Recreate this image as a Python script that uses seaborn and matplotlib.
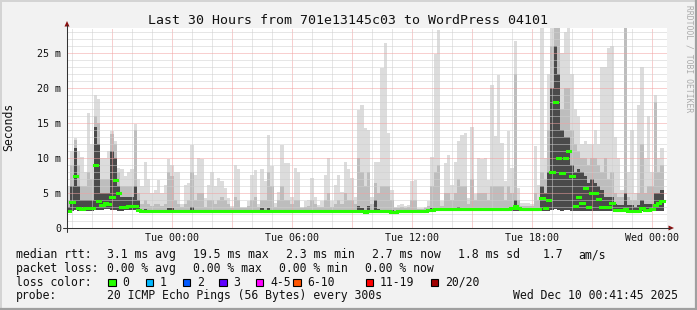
import numpy as np
import pandas as pd
import matplotlib
matplotlib.use("Agg")
import matplotlib.pyplot as plt
import seaborn as sns
from matplotlib.lines import Line2D
from matplotlib.patches import Rectangle, Polygon

# ---------------- data ----------------
TITLE = "Last 30 Hours from 701e13145c03 to WordPress 04101"
START_H = -5.265          # first sample, hours relative to Tue 00:00 (Mon 18:44)
STEP_H = 1.0 / 6.0        # 10-minute bins

# median RTT per bin (ms)
med = [
    2.5, 3.7, 7.5, 2.8, 2.7, 2.8, 2.9, 2.9, 9.0, 3.8,
    3.3, 3.6, 3.4, 4.5, 6.8, 5.0, 3.0, 3.0, 3.1, 3.1,
    3.2, 2.6, 2.45, 2.45, 2.45, 2.45, 2.45, 2.45, 2.4, 2.4,
    2.4, 2.4, 2.4, 2.4, 2.4, 2.4, 2.4, 2.4, 2.4, 2.45,
    2.4, 2.4, 2.4, 2.4, 2.4, 2.45, 2.4, 2.4, 2.4, 2.4,
    2.4, 2.4, 2.4, 2.4, 2.4, 2.4, 2.4, 2.4, 2.45, 2.5,
    2.4, 2.4, 2.4, 2.4, 2.4, 2.4, 2.4, 2.4, 2.4, 2.4,
    2.45, 2.4, 2.4, 2.4, 2.4, 2.4, 2.4, 2.4, 2.4, 2.45,
    2.4, 2.4, 2.4, 2.4, 2.4, 2.45, 2.4, 2.4, 2.4, 2.35,
    2.4, 2.45, 2.45, 2.45, 2.4, 2.4, 2.4, 2.35, 2.35, 2.4,
    2.4, 2.4, 2.45, 2.45, 2.5, 2.5, 2.5, 2.5, 2.55, 2.6,
    2.75, 2.75, 2.7, 2.7, 2.7, 2.75, 2.75, 2.7, 2.7, 2.7,
    2.7, 2.7, 2.7, 2.7, 2.7, 2.7, 2.7, 2.7, 2.7, 2.7,
    2.7, 2.7, 2.7, 2.8, 3.2, 2.8, 2.7, 2.7, 2.7, 2.7,
    2.7, 2.7, 4.3, 2.9, 4.0, 8.0, 18.0, 10.0, 7.8, 10.0,
    11.0, 7.5, 3.2, 4.5, 3.6, 5.7, 3.0, 5.0, 5.0, 4.2,
    3.0, 3.0, 3.0, 3.6, 2.6, 2.6, 2.6, 2.7, 2.5, 2.5,
    2.5, 2.5, 2.9, 2.6, 2.6, 2.7, 3.3, 3.6, 3.8,
]

# bottom of the smoke (fastest pings, ms)
smoke_lo = [
    2.3, 2.4, 2.6, 2.4, 2.4, 2.5, 2.5, 2.5, 2.6, 2.6,
    2.6, 2.7, 2.7, 2.6, 2.6, 2.5, 2.5, 2.6, 2.6, 2.6,
    2.6, 2.3, 2.3, 2.3, 2.3, 2.3, 2.3, 2.3, 2.3, 2.3,
    2.3, 2.3, 2.3, 2.3, 2.3, 2.3, 2.3, 2.3, 2.3, 2.3,
    2.3, 2.3, 2.3, 2.3, 2.3, 2.3, 2.3, 2.3, 2.3, 2.3,
    2.3, 2.3, 2.3, 2.3, 2.3, 2.3, 2.3, 2.3, 2.3, 2.3,
    2.3, 2.3, 2.3, 2.3, 2.3, 2.3, 2.3, 2.3, 2.3, 2.3,
    2.3, 2.3, 2.3, 2.3, 2.3, 2.3, 2.3, 2.3, 2.3, 2.3,
    2.3, 2.3, 2.3, 2.3, 2.3, 2.3, 2.3, 2.3, 2.3, 2.3,
    2.3, 2.3, 2.3, 2.3, 2.3, 2.3, 2.3, 2.3, 2.3, 2.3,
    2.3, 2.3, 2.3, 2.3, 2.3, 2.3, 2.3, 2.3, 2.35, 2.4,
    2.5, 2.5, 2.5, 2.5, 2.5, 2.5, 2.5, 2.5, 2.5, 2.5,
    2.5, 2.5, 2.5, 2.5, 2.5, 2.5, 2.5, 2.5, 2.5, 2.5,
    2.5, 2.5, 2.5, 2.5, 2.5, 2.5, 2.5, 2.5, 2.5, 2.5,
    2.5, 2.5, 2.5, 2.5, 2.5, 2.6, 2.7, 2.6, 2.5, 2.6,
    2.6, 2.5, 2.5, 2.5, 2.5, 2.5, 2.5, 2.5, 2.5, 2.5,
    2.5, 2.5, 2.5, 2.5, 2.4, 2.4, 2.4, 2.4, 2.4, 2.4,
    2.4, 2.4, 2.4, 2.4, 2.4, 2.4, 2.4, 2.5, 2.5,
]

# top of the dark (inner) smoke band (ms)
smoke_dark = [
    3.0, 6.0, 11.5, 6.0, 4.0, 4.0, 4.0, 4.0, 14.5, 12.0,
    5.0, 5.0, 5.0, 11.0, 10.0, 6.0, 4.5, 4.5, 4.5, 4.5,
    6.0, 4.0, 2.6, 2.7, 2.6, 2.6, 2.6, 2.6, 2.6, 2.6,
    2.8, 2.8, 2.6, 2.6, 2.6, 2.6, 2.6, 3.0, 2.6, 2.6,
    2.6, 2.6, 2.6, 2.6, 2.6, 2.6, 2.6, 2.6, 2.6, 2.6,
    2.6, 2.6, 2.6, 2.6, 2.6, 2.6, 2.6, 2.6, 2.8, 2.6,
    2.8, 2.6, 2.6, 2.6, 2.6, 2.6, 2.6, 2.6, 2.6, 2.6,
    2.6, 2.6, 2.6, 2.6, 2.6, 2.6, 2.6, 2.6, 2.6, 2.6,
    2.6, 2.6, 2.6, 2.6, 2.6, 2.6, 2.6, 3.2, 2.8, 2.6,
    3.2, 2.6, 4.0, 2.7, 2.6, 2.6, 2.6, 2.6, 2.5, 2.5,
    2.5, 2.5, 2.5, 2.6, 2.6, 2.6, 2.6, 2.6, 2.6, 2.8,
    2.9, 2.9, 2.8, 2.9, 2.9, 2.8, 2.9, 3.0, 2.9, 2.9,
    2.8, 2.9, 2.8, 2.9, 2.9, 2.9, 2.8, 2.9, 2.9, 2.9,
    2.9, 2.8, 2.9, 2.9, 4.0, 2.9, 2.8, 2.8, 2.8, 2.8,
    2.9, 2.8, 6.0, 5.0, 8.0, 20.0, 26.0, 22.0, 14.0, 13.0,
    13.0, 9.0, 8.0, 8.5, 8.0, 7.5, 6.5, 7.0, 6.5, 6.0,
    5.5, 4.5, 4.5, 4.5, 3.5, 3.3, 3.3, 5.0, 3.3, 3.3,
    3.0, 3.3, 4.0, 3.5, 3.5, 3.5, 5.0, 5.0, 5.5,
]

# top of the medium smoke band (ms)
smoke_mid = [
    4.0, 9.0, 12.6, 9.0, 6.0, 6.0, 8.0, 7.0, 16.0, 15.0,
    7.0, 7.0, 7.0, 13.5, 12.0, 8.0, 6.0, 6.0, 6.0, 6.0,
    14.0, 5.0, 3.5, 4.0, 3.5, 3.2, 3.5, 3.5, 3.2, 3.5,
    8.0, 7.5, 4.0, 3.5, 3.0, 3.5, 4.0, 8.0, 4.0, 5.0,
    5.0, 3.0, 4.0, 4.0, 3.5, 4.0, 4.5, 4.0, 3.5, 2.8,
    4.5, 4.0, 2.8, 2.8, 3.2, 4.0, 4.5, 3.0, 4.0, 4.0,
    8.0, 6.0, 3.0, 4.0, 6.0, 4.0, 4.0, 3.5, 4.0, 4.0,
    2.8, 3.0, 3.2, 4.0, 3.5, 3.0, 3.0, 4.0, 5.0, 3.0,
    3.5, 4.0, 3.5, 5.0, 4.0, 4.0, 3.5, 10.0, 8.0, 6.0,
    8.0, 3.5, 6.5, 5.0, 6.0, 6.0, 6.0, 4.0, 2.8, 2.9,
    3.0, 2.8, 3.0, 4.0, 4.0, 2.7, 2.7, 2.8, 3.2, 6.0,
    8.0, 9.0, 3.2, 5.0, 5.0, 4.0, 5.0, 7.0, 6.0, 6.0,
    3.5, 7.0, 4.0, 5.0, 5.0, 5.0, 4.0, 6.0, 6.0, 6.0,
    6.0, 4.0, 6.0, 5.0, 22.0, 4.0, 3.2, 3.2, 3.2, 3.2,
    5.0, 4.0, 8.0, 7.0, 14.0, 26.0, 28.6, 28.6, 17.0, 20.0,
    20.0, 14.0, 12.0, 11.0, 10.0, 10.0, 9.0, 10.0, 10.0, 9.0,
    8.0, 10.0, 7.0, 8.0, 5.0, 4.5, 4.5, 28.6, 4.5, 4.0,
    4.0, 5.0, 12.0, 5.0, 6.0, 6.0, 18.0, 8.0, 9.0,
]

# top of the light (outer) smoke band = slowest ping (ms)
smoke_max = [
    6.0, 11.0, 12.8, 11.0, 10.2, 8.0, 16.5, 12.0, 19.0, 18.5,
    10.0, 10.0, 11.0, 13.8, 12.5, 8.6, 8.5, 7.5, 8.0, 8.5,
    14.8, 7.0, 6.0, 9.5, 7.0, 5.0, 5.5, 6.8, 5.0, 6.2,
    9.8, 9.0, 8.0, 8.0, 3.5, 6.2, 6.4, 11.9, 7.6, 10.0,
    9.8, 4.3, 6.2, 8.0, 6.0, 7.2, 6.7, 5.7, 4.3, 3.2,
    9.0, 8.5, 3.0, 3.0, 3.8, 7.6, 8.3, 3.5, 8.5, 6.7,
    13.3, 8.8, 3.6, 5.2, 11.9, 9.3, 9.3, 4.5, 8.6, 8.0,
    3.0, 3.8, 4.0, 7.1, 4.5, 3.3, 3.8, 7.6, 10.0, 3.8,
    6.2, 7.6, 5.2, 9.5, 8.4, 7.1, 4.5, 16.8, 17.6, 14.3,
    14.0, 4.5, 9.5, 9.5, 22.9, 26.4, 13.6, 5.5, 3.0, 3.3,
    3.4, 3.1, 3.3, 6.7, 6.9, 2.8, 2.8, 3.0, 3.8, 10.2,
    24.8, 28.3, 3.8, 9.3, 10.5, 6.2, 9.5, 12.4, 13.3, 13.6,
    4.3, 14.5, 4.8, 10.0, 9.8, 10.0, 6.9, 20.5, 13.1, 21.9,
    12.1, 6.7, 13.8, 8.6, 26.7, 5.7, 3.6, 3.6, 3.6, 3.5,
    11.7, 6.2, 28.6, 10.0, 22.0, 28.6, 28.6, 28.6, 25.0, 28.0,
    28.6, 22.0, 17.0, 16.0, 12.0, 12.5, 12.0, 12.0, 14.0, 12.0,
    23.0, 23.0, 25.7, 26.0, 13.0, 10.0, 5.5, 28.6, 8.0, 14.0,
    5.0, 17.6, 23.0, 10.0, 16.0, 8.0, 19.0, 10.0, 11.5,
]

x_tick_hours = [0, 6, 12, 18, 24]
x_tick_labels = ["Tue 00:00", "Tue 06:00", "Tue 12:00", "Tue 18:00", "Wed 00:00"]
y_tick_values = [0, 5, 10, 15, 20, 25]
y_tick_labels = ["0", "5 m", "10 m", "15 m", "20 m", "25 m"]

loss_labels = ["0", "1", "2", "3", "4-5", "6-10", "11-19", "20/20"]
loss_colors = ["#26ff00", "#00b8ff", "#0059ff", "#5e00ff", "#ff00ff",
               "#ff5500", "#ff0000", "#a00000"]

stats_rtt = ["3.1 ms avg", "19.5 ms max", "2.3 ms min", "2.7 ms now",
             "1.8 ms sd", "1.7", "am/s"]
stats_loss = ["0.00 % avg", "0.00 % max", "0.00 % min", "0.00 % now"]
probe_text = "20 ICMP Echo Pings (56 Bytes) every 300s"
stamp_text = "Wed Dec 10 00:41:45 2025"

# ---------------- figure ----------------
sns.set_style("white")
plt.rcParams["font.family"] = ["DejaVu Sans Mono"]

W, H = 697, 310
fig = plt.figure(figsize=(W / 100, H / 100), dpi=100)
fig.patch.set_facecolor("#f2f2f2")

def fx(px):
    return px / W

def fy(py):
    return 1 - py / H

PL, PR, PT, PB = 67, 667, 28, 228
ax = fig.add_axes([fx(PL), fy(PB), (PR - PL) / W, (PB - PT) / H])
ax.set_facecolor("white")
YMAX = 200 / 7.0
ax.set_xlim(START_H, START_H + 30)
ax.set_ylim(0, YMAX)
for s in ax.spines.values():
    s.set_visible(False)

n = len(med)
edges = START_H + np.arange(n + 1) * STEP_H

def ext(a):
    a = np.asarray(a, dtype=float)
    return np.append(a, a[-1])

ax.fill_between(edges, ext(smoke_lo), ext(smoke_max), step="post",
                color="#dcdcdc", lw=0, zorder=1)
ax.fill_between(edges, ext(smoke_lo), ext(smoke_mid), step="post",
                color="#bdbdbd", lw=0, zorder=1.1)
ax.fill_between(edges, ext(smoke_lo), ext(smoke_dark), step="post",
                color="#4a4a4a", lw=0, zorder=1.2)

# grid (rrdtool style dotted)
minor_c, major_c = "#cfcfcf", "#f2a0a0"
for h in range(-5, 25):
    ax.axvline(h, color=major_c if h % 3 == 0 else minor_c, lw=0.72,
               ls=(0, (1, 1)), zorder=2)
for m in range(1, 29):
    ax.axhline(m, color=major_c if m % 5 == 0 else minor_c, lw=0.72,
               ls=(0, (1, 1)), zorder=2)

# median as short green dashes (one per bin)
rows = []
for i, v in enumerate(med):
    rows.append((edges[i], v, i))
    rows.append((edges[i + 1], v, i))
df = pd.DataFrame(rows, columns=["t", "rtt", "bin"])
sns.lineplot(data=df, x="t", y="rtt", units="bin", estimator=None,
             color="#26ff00", lw=2.2, ax=ax, zorder=4, legend=False,
             solid_capstyle="projecting")
ax.set_xlabel("")
ax.set_ylabel("")

# ticks
ax.set_xticks(list(range(-3, 25, 3)))
ax.set_xticks(list(range(-5, 25)), minor=True)
ax.set_yticks(y_tick_values)
ax.set_yticks(list(range(0, 29)), minor=True)
ax.tick_params(which="major", length=2.5, width=0.7, color="#444444",
               direction="out", labelbottom=False, labelleft=False)
ax.tick_params(which="minor", length=1.5, width=0.7, color="#444444",
               direction="out")

xt = ax.get_xaxis_transform()
for h, lab in zip(x_tick_hours, x_tick_labels):
    ax.text(h, (PB - 240.7) / (PB - PT), lab, transform=xt, ha="center",
            va="baseline", fontsize=7.2, color="#111111")
yt = ax.get_yaxis_transform()
for v, lab in zip(y_tick_values, y_tick_labels):
    ax.text((61 - PL) / (PR - PL), v, lab, transform=yt, ha="right",
            va="center_baseline", fontsize=7.2, color="#111111")

# axis lines and arrows
fig.add_artist(Line2D([fx(67), fx(67)], [fy(232), fy(25)], color="#333333", lw=0.75))
fig.add_artist(Line2D([fx(63), fx(670)], [fy(228), fy(228)], color="#333333", lw=0.75))
fig.add_artist(Polygon([[fx(64.5), fy(26.5)], [fx(69.5), fy(26.5)], [fx(67), fy(21)]],
                       closed=True, color="#8b1010", lw=0))
fig.add_artist(Polygon([[fx(668.5), fy(225.5)], [fx(668.5), fy(230.5)], [fx(674), fy(228)]],
                       closed=True, color="#8b1010", lw=0))

# texts
fig.text(fx(347.5), fy(24), TITLE, ha="center", va="baseline", fontsize=9.5, color="#111111")
fig.text(fx(15), fy(127), "Seconds", rotation=90, ha="right", va="center",
         fontsize=8.3, color="#111111")
fig.text(fx(688.5), fy(58.5), "RRDTOOL / TOBI OETIKER", rotation=270, ha="center",
         va="center", fontsize=5.8, color="#ababab")

LFS = 8.3
def ltext(px, py, s):
    fig.text(fx(px), fy(py), s, ha="left", va="baseline", fontsize=LFS, color="#111111")

row_y = [258.3, 272.0, 285.8, 299.3]
ltext(16, row_y[0], "median rtt:")
for s, px in zip(stats_rtt, [106.6, 192.6, 285.5, 372.0, 457.6, 542.6, 578.6]):
    ltext(px, row_y[0], s)
ltext(16, row_y[1], "packet loss:")
for s, px in zip(stats_loss, [106.6, 192.6, 278.6, 364.6]):
    ltext(px, row_y[1], s)
ltext(16, row_y[2], "loss color:")
box_x = [108.3, 145.7, 182.7, 219.3, 256.0, 293.3, 365.7, 431.0]
for bx, lab, col in zip(box_x, loss_labels, loss_colors):
    fig.add_artist(Rectangle((fx(bx), fy(286.0)), 7.3 / W, 7.5 / H,
                             facecolor=col, edgecolor="black", lw=0.8))
    ltext(bx + 14.3, row_y[2], lab)
ltext(16, row_y[3], "probe:")
ltext(106.6, row_y[3], probe_text)
ltext(512.6, row_y[3], stamp_text)

# 3D-ish frame
fig.add_artist(Line2D([0, 1], [fy(0.7), fy(0.7)], color="#d4d4d4", lw=1.4))
fig.add_artist(Line2D([fx(0.7), fx(0.7)], [0, 1], color="#d4d4d4", lw=1.4))
fig.add_artist(Line2D([0, 1], [fy(309), fy(309)], color="#a0a0a0", lw=1.6))
fig.add_artist(Line2D([fx(696), fx(696)], [0, 1], color="#a0a0a0", lw=1.6))

fig.savefig("out.png", dpi=100, facecolor=fig.get_facecolor())
